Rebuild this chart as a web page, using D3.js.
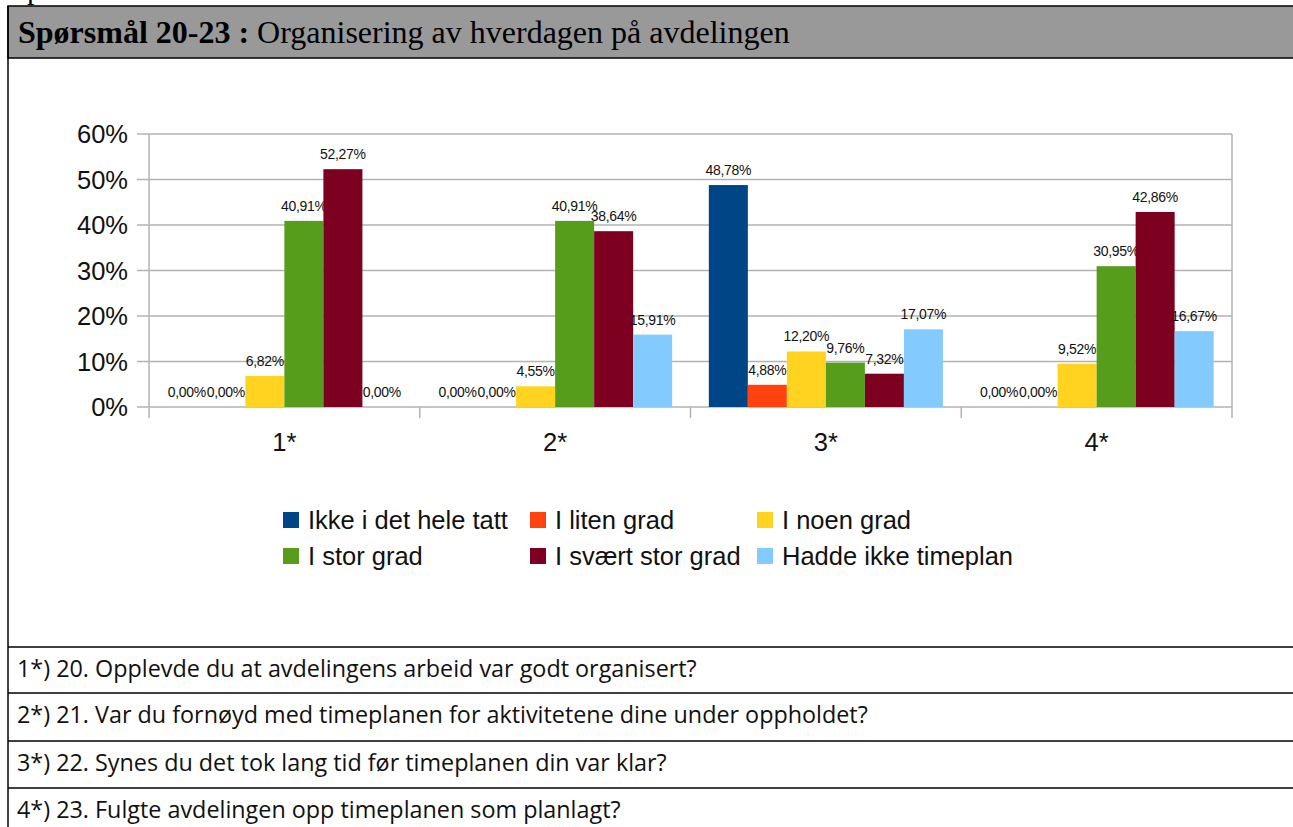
<!DOCTYPE html>
<html>
<head>
<meta charset="utf-8">
<script src="https://cdn.jsdelivr.net/npm/d3@7"></script>
<style>
  body { margin: 0; background: #fff; }
  svg { display: block; }
</style>
</head>
<body>
<div id="chart"></div>
<script>
// survey answers, percent per question
const categories = ["1*", "2*", "3*", "4*"];
const seriesNames = ["Ikke i det hele tatt", "I liten grad", "I noen grad", "I stor grad", "I svært stor grad", "Hadde ikke timeplan"];
const ikkeIDetHeleTatt = [0, 0, 48.78, 0];
const iLitenGrad = [0, 0, 4.88, 0];
const iNoenGrad = [6.82, 4.55, 12.20, 9.52];
const iStorGrad = [40.91, 40.91, 9.76, 30.95];
const iSvaertStorGrad = [52.27, 38.64, 7.32, 42.86];
const haddeIkkeTimeplan = [0, 15.91, 17.07, 16.67];
const yTicks = [0, 10, 20, 30, 40, 50, 60];
const questions = [
  "1*) 20. Opplevde du at avdelingens arbeid var godt organisert?",
  "2*) 21. Var du fornøyd med timeplanen for aktivitetene dine under oppholdet?",
  "3*) 22. Synes du det tok lang tid før timeplanen din var klar?",
  "4*) 23. Fulgte avdelingen opp timeplanen som planlagt?"
];
const colors = ["#004586", "#ff420e", "#ffd320", "#579d1c", "#7e0021", "#83caff"];

const seriesValues = [ikkeIDetHeleTatt, iLitenGrad, iNoenGrad, iStorGrad, iSvaertStorGrad, haddeIkkeTimeplan];

const W = 1293, H = 827;
const svg = d3.select("#chart").append("svg")
  .attr("width", W)
  .attr("height", H);

svg.append("rect").attr("width", W).attr("height", H).attr("fill", "#fff");

// frame: header band, left border, question rows
// (only the descender of the line above shows at the top edge)
svg.append("text")
  .attr("x", 27).attr("y", -1)
  .attr("font-family", "Liberation Serif")
  .attr("font-size", 30)
  .text("p");

svg.append("rect")
  .attr("x", 8).attr("y", 6)
  .attr("width", W).attr("height", 52)
  .attr("fill", "#999999")
  .attr("stroke", "#000")
  .attr("stroke-width", 1.5);

const title = svg.append("text")
  .attr("x", 18).attr("y", 43)
  .attr("font-family", "Liberation Serif")
  .attr("font-size", 32)
  .attr("fill", "#000");
title.append("tspan").attr("font-weight", "bold").text("Spørsmål 20-23 :");
title.append("tspan").text(" Organisering av hverdagen på avdelingen");

svg.append("line")
  .attr("x1", 8).attr("x2", 8)
  .attr("y1", 6).attr("y2", H)
  .attr("stroke", "#000").attr("stroke-width", 1.5);

const rowLines = [647, 693, 741, 788];
svg.selectAll(".rowline")
  .data(rowLines)
  .enter()
  .append("line")
  .attr("x1", 8).attr("x2", W)
  .attr("y1", d => d).attr("y2", d => d)
  .attr("stroke", "#000").attr("stroke-width", 1.3);

const qText = svg.selectAll(".question")
  .data(questions)
  .enter()
  .append("text")
  .attr("x", 17)
  .attr("y", (d, i) => rowLines[i] + 30)
  .attr("font-family", "Open Sans")
  .attr("font-size", 22)
  .attr("fill", "#111")
  .text(d => d);

// the original uses Calibri; size the substitute so row 1 ends where it did
const firstLen = qText.node().getComputedTextLength();
if (firstLen > 0) qText.attr("font-size", 22 * 680 / firstLen);

// chart
const plot = {left: 149, right: 1232, top: 134, bottom: 407};

const x0 = d3.scaleBand()
  .domain(categories)
  .range([plot.left, plot.right]);

const x1 = d3.scaleBand()
  .domain(d3.range(seriesNames.length))
  .range([0, x0.bandwidth()])
  .paddingOuter(0.47);

const y = d3.scaleLinear()
  .domain([0, 60])
  .range([plot.bottom, plot.top]);

const gridColor = "#b3b3b3";

svg.append("g")
  .selectAll("line")
  .data(yTicks)
  .enter()
  .append("line")
  .attr("x1", plot.left - 12).attr("x2", plot.right)
  .attr("y1", d => y(d)).attr("y2", d => y(d))
  .attr("stroke", gridColor).attr("stroke-width", 1.5);

// category separators + frame sides
const seps = categories.map(c => x0(c)).concat([plot.right]);
svg.append("g")
  .selectAll("line")
  .data(seps)
  .enter()
  .append("line")
  .attr("x1", d => d).attr("x2", d => d)
  .attr("y1", (d, i) => (i === 0 || i === seps.length - 1) ? plot.top : plot.bottom)
  .attr("y2", plot.bottom + 11)
  .attr("stroke", gridColor).attr("stroke-width", 1.5);

svg.append("g")
  .selectAll("text")
  .data(yTicks)
  .enter()
  .append("text")
  .attr("x", plot.left - 21)
  .attr("y", d => y(d))
  .attr("dy", "0.36em")
  .attr("text-anchor", "end")
  .attr("font-family", "Liberation Sans")
  .attr("font-size", 25.5)
  .attr("fill", "#111")
  .text(d => d + "%");

svg.append("g")
  .selectAll("text")
  .data(categories)
  .enter()
  .append("text")
  .attr("x", d => x0(d) + x0.bandwidth() / 2)
  .attr("y", 451)
  .attr("text-anchor", "middle")
  .attr("font-family", "Liberation Sans")
  .attr("font-size", 25.5)
  .attr("fill", "#111")
  .text(d => d);

const fmt = v => d3.format(".2f")(v).replace(".", ",") + "%";

const groups = svg.append("g")
  .selectAll("g")
  .data(categories)
  .enter()
  .append("g")
  .attr("transform", d => `translate(${x0(d)},0)`);

const cells = groups.selectAll("g")
  .data((c, ci) => seriesValues.map((vals, si) => ({si, v: vals[ci]})))
  .enter()
  .append("g");

cells.append("rect")
  .attr("x", d => x1(d.si))
  .attr("y", d => y(d.v))
  .attr("width", x1.bandwidth())
  .attr("height", d => y(0) - y(d.v))
  .attr("fill", d => colors[d.si]);

cells.append("text")
  .attr("x", d => x1(d.si) + x1.bandwidth() / 2)
  .attr("y", d => y(d.v) - 10)
  .attr("text-anchor", "middle")
  .attr("font-family", "Liberation Sans")
  .attr("font-size", 14)
  .attr("letter-spacing", -0.3)
  .attr("fill", "#111")
  .text(d => fmt(d.v));

// legend
const legendX = [283, 530, 757];
const legendY = [512, 548];
const legend = svg.append("g")
  .selectAll("g")
  .data(seriesNames)
  .enter()
  .append("g")
  .attr("transform", (d, i) => `translate(${legendX[i % 3]},${legendY[Math.floor(i / 3)]})`);

legend.append("rect")
  .attr("width", 16).attr("height", 16)
  .attr("fill", (d, i) => colors[i]);

legend.append("text")
  .attr("x", 25)
  .attr("y", 17)
  .attr("font-family", "Liberation Sans")
  .attr("font-size", 25.5)
  .attr("fill", "#111")
  .text(d => d);
</script>
</body>
</html>
